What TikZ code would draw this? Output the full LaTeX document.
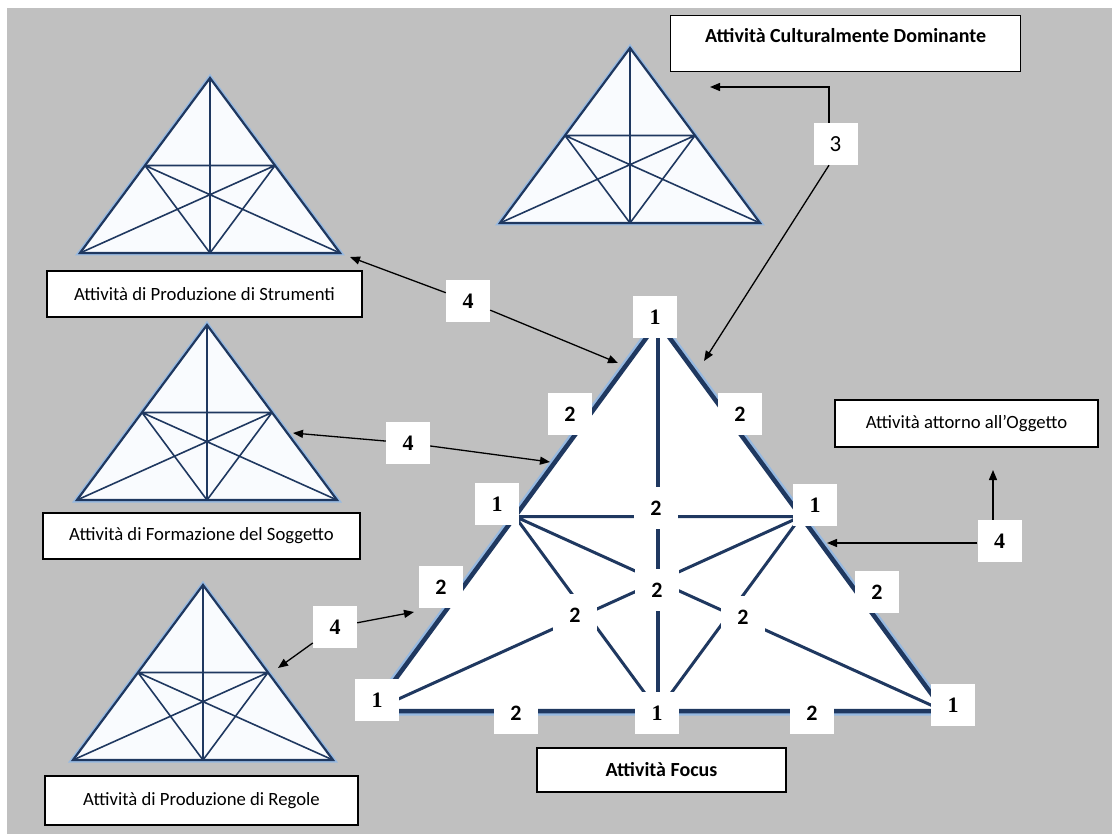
\documentclass[tikz,border=0pt]{standalone}
\usepackage{fontspec}
\setmainfont{Carlito}
\newfontfamily\serifnum{Liberation Serif}
\usetikzlibrary{arrows.meta}
\definecolor{bggrey}{RGB}{192,192,192}
\definecolor{navy}{RGB}{31,56,96}
\definecolor{haze}{RGB}{150,185,225}
\definecolor{trifill}{RGB}{249,251,254}

\begin{document}
\begin{tikzpicture}[x=1pt,y=-1pt,
  numbox/.style={fill=white, minimum width=44pt, minimum height=42pt, inner sep=0pt},
  one/.style={numbox, font=\serifnum\bfseries\fontsize{22}{24}\selectfont},
  two/.style={numbox, font=\bfseries\fontsize{22}{24}\selectfont},
  three/.style={numbox, font=\fontsize{23}{24}\selectfont},
  caption/.style={draw=black, line width=1.3pt, fill=white, inner sep=0pt,
    font=\fontsize{18.7}{22}\selectfont},
  heading/.style={caption, font=\bfseries\fontsize{20}{24}\selectfont},
  link/.style={line width=1.3pt, -{Triangle[length=10pt,width=8pt]}},
  ray/.style={navy, line width=3pt},
  minitri/.pic={
    \coordinate (-a) at (0,0);
    \coordinate (-l) at (-130,175);
    \coordinate (-r) at (130,175);
    \coordinate (-ml) at (-65,87.5);
    \coordinate (-mr) at (65,87.5);
    \coordinate (-mb) at (0,175);
    \draw[haze, line width=5pt] (-a) -- (-l) -- (-r) -- cycle;
    \filldraw[fill=trifill, draw=navy, line width=2.2pt] (-a) -- (-l) -- (-r) -- cycle;
    \draw[navy, line width=1.6pt] (-ml) -- (-mr) (-a) -- (-mb)
      (-ml) -- (-r) (-mr) -- (-l) (-ml) -- (-mb) (-mr) -- (-mb);
  }
]
\useasboundingbox (0,0) rectangle (1112,834);
\fill[white] (0,0) rectangle (1112,834);
\fill[bggrey] (7,8) rectangle (1112,834);

% the four small activity triangles
\pic (tools) at (210,78) {minitri};
\pic (culture) at (630,48) {minitri};
\pic (subject) at (207,325) {minitri};
\pic (rules) at (203,585) {minitri};

% the focus triangle
\coordinate (A) at (658,322);
\coordinate (B) at (372,711);
\coordinate (C) at (944,711);
\coordinate (L) at (515,516.5);
\coordinate (R) at (801,516.5);
\coordinate (M) at (658,711);
\draw[haze, line width=9pt] (A) -- (B) -- (C) -- cycle;
\fill[white] (A) -- (B) -- (C) -- cycle;
\draw[ray] (L) -- (R) (L) -- (C) (R) -- (B) (L) -- (M) (R) -- (M);
\draw[navy, line width=4pt] (A) -- (M);
\draw[navy, line width=4.5pt] (A) -- (B) -- (C) -- cycle;

% level labels on the focus triangle
\node[one] (vA) at (655,317) {1};
\node[one] (vL) at (497,504) {1};
\node[one] (vR) at (815,505) {1};
\node[one] (vB) at (377,700) {1};
\node[one] (vC) at (953,705) {1};
\node[one] (vM) at (657,713) {1};
\node[two] (eAL) at (570,414) {2};
\node[two] (eAR) at (740,414) {2};
\node[two] (eLB) at (441,587) {2};
\node[two] (eRC) at (877,592) {2};
\node[two] (eBM) at (516,713) {2};
\node[two] (eMC) at (812,713) {2};
\node[two] (cTop) at (656,508) {2};
\node[two] (cMid) at (657,590) {2};
\node[two] (cLeft) at (575,615) {2};
\node[two] (cRight) at (743,617) {2};

% captions
\node[heading, minimum width=350pt, text height=24pt, text depth=26pt, inner ysep=3pt,
  anchor=north west] (cultbox) at (670,15) {Attività Culturalmente Dominante};
\node[caption, minimum width=315pt, minimum height=46pt] (toolbox) at (204.5,294) {Attività di Produzione di Strumenti};
\node[caption, minimum width=317pt, minimum height=46pt] (subjbox) at (201.5,536) {Attività di Formazione del Soggetto};
\node[caption, minimum width=313pt, minimum height=49pt] (rulebox) at (201.5,800.5) {Attività di Produzione di Regole};
\node[caption, minimum width=263pt, minimum height=47pt] (objbox) at (966.5,423.5) {Attività attorno all’Oggetto};
\node[heading, minimum width=249pt, minimum height=44pt] (focusbox) at (661.5,770) {Attività Focus};

% relation markers
\node[one] (n4a) at (468,301) {4};
\node[one] (n4b) at (408,443) {4};
\node[one] (n4c) at (335,627) {4};
\node[one] (n4d) at (999.5,541) {4};
\node[three] (n3) at (835.5,144) {3};

\coordinate (p4a) at (350,257);
\coordinate (q4a) at (618,363);
\coordinate (p4b) at (293,433);
\coordinate (q4b) at (550,462);
\coordinate (p4c) at (278,668);
\coordinate (q4c) at (414,612);
\coordinate (up4d) at (993,470);
\coordinate (left4d) at (827,543);
\coordinate (k3) at (829,87);
\coordinate (top3) at (710,87);
\coordinate (low3) at (704,361);

\draw[link] (n4a) -- (p4a);
\draw[link] (n4a) -- (q4a);
\draw[link] (n4b) -- (p4b);
\draw[link] (n4b) -- (q4b);
\draw[link] (n4c) -- (p4c);
\draw[link] (n4c) -- (q4c);
\draw[link] (n4d.north -| up4d) -- (up4d);
\draw[link] (n4d.west |- left4d) -- (left4d);
\draw[link] (n3.north -| k3) -- (k3) -- (top3);
\draw[link] (n3.south -| k3) -- (low3);
\end{tikzpicture}
\end{document}
